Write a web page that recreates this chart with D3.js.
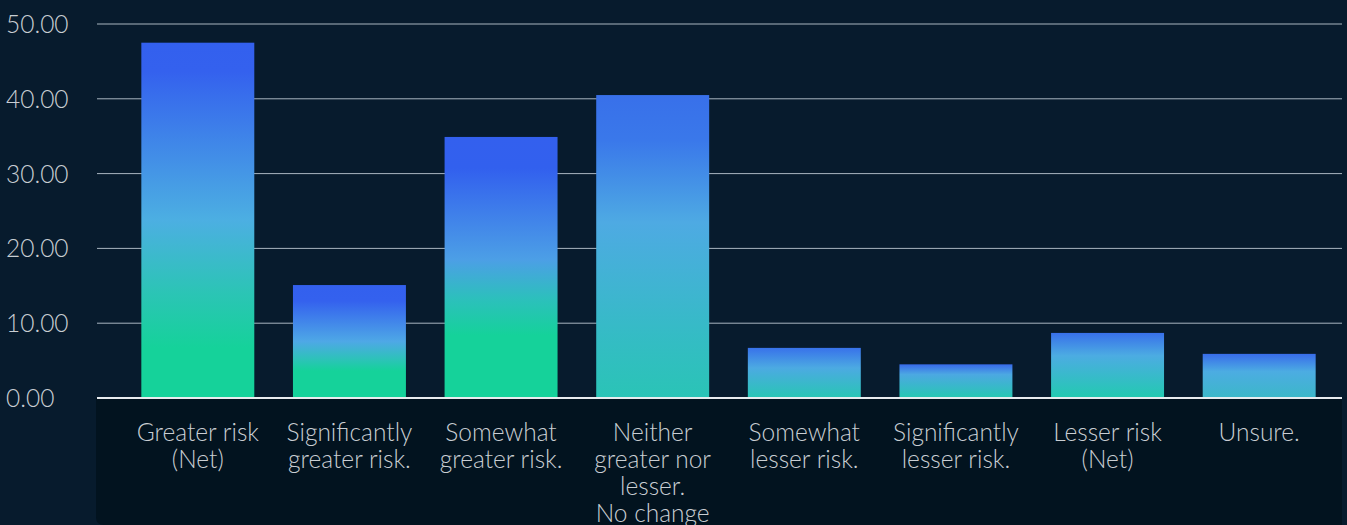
<!DOCTYPE html>
<html>
<head>
<meta charset="utf-8">
<script src="https://cdn.jsdelivr.net/npm/d3@7"></script>
<style>
  html, body { margin: 0; padding: 0; background: #071b2d; }
  svg { display: block; }
  text { font-family: Lato, "Open Sans", sans-serif; font-weight: 300; }
</style>
</head>
<body>
<svg id="chart" width="1347" height="525"></svg>
<script>
const categories = [
  "Greater risk\n(Net)",
  "Significantly\ngreater risk.",
  "Somewhat\ngreater risk.",
  "Neither\ngreater nor\nlesser.\nNo change",
  "Somewhat\nlesser risk.",
  "Significantly\nlesser risk.",
  "Lesser risk\n(Net)",
  "Unsure."
];
const values = [47.5, 15.1, 34.9, 40.5, 6.7, 4.5, 8.7, 5.9];
const yTicks = [0, 10, 20, 30, 40, 50];

// per-bar gradient stop styles (offset, colour)
const gradStyles = [
  [[0, "#3360ee"], [0.08, "#3461ee"], [0.5, "#4cafe2"], [0.7, "#2cc4b6"], [0.86, "#15d29a"], [1, "#15d29a"]],
  [[0, "#3360ee"], [0.14, "#3461ee"], [0.5, "#4ea8e6"], [0.66, "#2cc3b8"], [0.76, "#15d29a"], [1, "#15d29a"]],
  [[0, "#3360ee"], [0.12, "#3260ee"], [0.47, "#4c9fe6"], [0.62, "#2cc0bc"], [0.76, "#15d29a"], [1, "#15d29a"]],
  [[0, "#3870ea"], [0.15, "#3a78ea"], [0.42, "#4eaae3"], [0.8, "#34bcc4"], [1, "#2ac4b6"]],
  [[0, "#3872ea"], [0.4, "#4caae2"], [1, "#28c6b4"]],
  [[0, "#386aea"], [0.3, "#4ca8e2"], [1, "#26c8b2"]],
  [[0, "#3870ea"], [0.35, "#4cace2"], [1, "#22cab0"]],
  [[0, "#386cea"], [0.4, "#4cace2"], [1, "#3cb8c8"]]
];

const svg = d3.select("#chart");
const defs = svg.append("defs");

const y = d3.scaleLinear().domain([0, 50]).range([398, 24]);
const x = d3.scaleBand()
  .domain(categories)
  .range([122, 1335])
  .paddingInner(0.255)
  .paddingOuter(0.1275);

// bottom dark panel
svg.append("path")
  .attr("d", "M96,398 H1342 V525 H104 Q96,525 96,517 Z")
  .attr("fill", "#02131f");

// grid lines
svg.append("g")
  .selectAll("line")
  .data(yTicks.filter(d => d !== 0))
  .join("line")
  .attr("x1", 97).attr("x2", 1342)
  .attr("y1", d => y(d)).attr("y2", d => y(d))
  .attr("stroke", "#a9b6c0")
  .attr("stroke-width", 1);

// y tick labels
svg.append("g")
  .selectAll("text")
  .data(yTicks)
  .join("text")
  .attr("x", 6)
  .attr("y", d => y(d) + 9)
  .attr("fill", "#c9ced3")
  .attr("font-size", 24.5)
  .text(d => d.toFixed(2));

// gradients
gradStyles.forEach((stops, i) => {
  const g = defs.append("linearGradient")
    .attr("id", "grad" + i)
    .attr("x1", 0).attr("y1", 0).attr("x2", 0).attr("y2", 1);
  stops.forEach(s => g.append("stop").attr("offset", s[0]).attr("stop-color", s[1]));
});

// bars
svg.append("g")
  .selectAll("rect")
  .data(values)
  .join("rect")
  .attr("x", (d, i) => x(categories[i]))
  .attr("width", x.bandwidth())
  .attr("y", d => y(d))
  .attr("height", d => y(0) - y(d))
  .attr("fill", (d, i) => `url(#grad${i})`);

// baseline
svg.append("line")
  .attr("x1", 97).attr("x2", 1342)
  .attr("y1", y(0)).attr("y2", y(0))
  .attr("stroke", "#e8ecef")
  .attr("stroke-width", 2);

// x labels
const xl = svg.append("g")
  .selectAll("text")
  .data(categories)
  .join("text")
  .attr("x", d => x(d) + x.bandwidth() / 2)
  .attr("y", 441)
  .attr("text-anchor", "middle")
  .attr("fill", "#c9ced3")
  .attr("font-size", 24.5);
xl.each(function(d) {
  const t = d3.select(this);
  d.split("\n").forEach((line, k) => {
    t.append("tspan")
      .attr("x", x(d) + x.bandwidth() / 2)
      .attr("dy", k === 0 ? 0 : 27)
      .text(line);
  });
});
</script>
</body>
</html>
